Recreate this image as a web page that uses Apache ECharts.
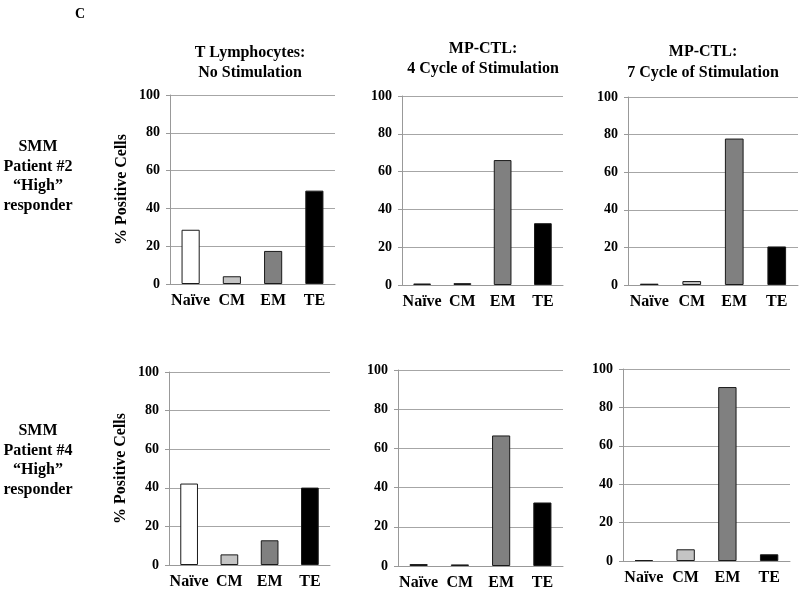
<!DOCTYPE html>
<html><head><meta charset="utf-8">
<script src="https://cdn.jsdelivr.net/npm/echarts@6/dist/echarts.min.js"></script>
<style>html,body{margin:0;padding:0;background:#fff}#c{width:800px;height:594px}</style>
</head><body><div id="c"></div>
<script>
const categories = ['Naïve', 'CM', 'EM', 'TE'];
const yTicks = [0, 20, 40, 60, 80, 100];
const colTitles = [['T Lymphocytes:', 'No Stimulation'], ['MP-CTL:', '4 Cycle of Stimulation'], ['MP-CTL:', '7 Cycle of Stimulation']];
const rowLabels = [['SMM', 'Patient #2', '“High”', 'responder'], ['SMM', 'Patient #4', '“High”', 'responder']];
const yAxisName = '% Positive Cells';
// Patient #2
const p2NoStim = [28.7, 4.1, 17.5, 49.4];
const p2Cycle4 = [0.8, 1.0, 66.1, 32.7];
const p2Cycle7 = [0.7, 2.1, 77.9, 20.5];
// Patient #4
const p4NoStim = [42.2, 5.5, 12.8, 40.1];
const p4Cycle4 = [1.0, 0.8, 66.6, 32.4];
const p4Cycle7 = [0.5, 6.1, 90.6, 3.5];

const panels = [p2NoStim, p2Cycle4, p2Cycle7, p4NoStim, p4Cycle4, p4Cycle7];
const barColors = ['#ffffff', '#c4c4c4', '#808080', '#000000'];
const gridBoxes = [
  {left: 170, top: 95, width: 165, height: 189},
  {left: 402, top: 96, width: 161, height: 189},
  {left: 628, top: 97, width: 170, height: 188},
  {left: 169, top: 372, width: 161, height: 193},
  {left: 398, top: 370, width: 165, height: 196},
  {left: 623, top: 369, width: 167, height: 192}
];
const FONT = '"Liberation Serif","Times New Roman",serif';

const grid = [], xAxis = [], yAxis = [], series = [];
panels.forEach((vals, i) => {
  grid.push(gridBoxes[i]);
  xAxis.push({
    type: 'category', gridIndex: i, data: categories,
    axisLine: {lineStyle: {color: '#999', width: 1}},
    axisTick: {show: false},
    axisLabel: {interval: 0, hideOverlap: false, color: '#000', fontFamily: FONT, fontWeight: 'bold', fontSize: 16, margin: 9}
  });
  yAxis.push({
    type: 'value', gridIndex: i, min: 0, max: 100, interval: 20,
    name: (i % 3 === 0) ? yAxisName : '',
    nameLocation: 'middle', nameRotate: 90, nameGap: 40,
    nameTextStyle: {color: '#000', fontFamily: FONT, fontWeight: 'bold', fontSize: 16},
    axisLine: {show: true, lineStyle: {color: '#999', width: 1}},
    axisTick: {show: true, length: 4, lineStyle: {color: '#999'}},
    splitLine: {lineStyle: {color: '#a6a6a6', width: 1}},
    axisLabel: {color: '#000', fontFamily: FONT, fontWeight: 'bold', fontSize: 14, margin: 10}
  });
  series.push({
    type: 'bar', xAxisIndex: i, yAxisIndex: i, barWidth: '44%',
    data: vals.map((v, k) => ({value: v, itemStyle: {color: barColors[k], borderColor: '#1a1a1a', borderWidth: 1}})),
    animation: false
  });
});

const titleCenters = [[250, 53, 73], [483, 49, 69], [703, 52, 73]];
const graphic = [];
colTitles.forEach((t, i) => {
  t.forEach((line, j) => {
    graphic.push({type: 'text', x: titleCenters[i][0], y: titleCenters[i][1 + j],
      style: {text: line, font: 'bold 16px ' + FONT, fill: '#000', textAlign: 'center', textVerticalAlign: 'middle'}});
  });
});
const rowStarts = [147, 431];
rowLabels.forEach((r, i) => {
  r.forEach((line, j) => {
    graphic.push({type: 'text', x: 38, y: rowStarts[i] + j * 19.5,
      style: {text: line, font: 'bold 16px ' + FONT, fill: '#000', textAlign: 'center', textVerticalAlign: 'middle'}});
  });
});
graphic.push({type: 'text', x: 80, y: 14, style: {text: 'C', font: 'bold 14px ' + FONT, fill: '#000', textAlign: 'center', textVerticalAlign: 'middle'}});

const chart = echarts.init(document.getElementById('c'), null, {renderer: 'canvas'});
chart.setOption({animation: false, backgroundColor: '#fff', grid, xAxis, yAxis, series, graphic});
</script></body></html>
